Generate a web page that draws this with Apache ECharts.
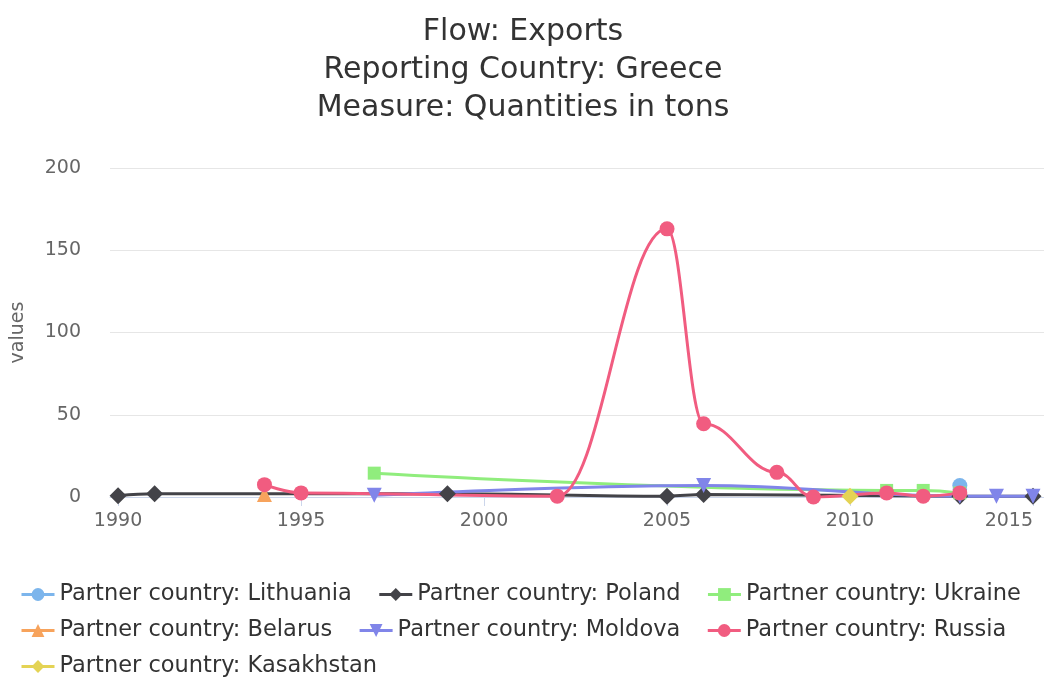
<!DOCTYPE html>
<html>
<head>
<meta charset="utf-8">
<title>Exports Greece</title>
<script src="https://cdn.jsdelivr.net/npm/echarts@6/dist/echarts.min.js"></script>
<style>
  html, body { margin: 0; padding: 0; background: #fff; }
  #main { width: 1044px; height: 677px; }
</style>
</head>
<body>
<!-- 图表容器 -->
<div id="main"></div>
<script>
  // 数据 (年份 / 数值)
  var lithuaniaYears = [2013];
  var lithuaniaValues = [7];
  var polandYears = [1990, 1991, 1999, 2005, 2006, 2013, 2015];
  var polandValues = [0.8, 2, 2, 0.5, 1.5, 0.5, 0.5];
  var ukraineYears = [1997, 2011, 2012, 2013];
  var ukraineValues = [14.5, 4, 4, 2.5];
  var belarusYears = [1994];
  var belarusValues = [1.5];
  var moldovaYears = [1997, 2006, 2013, 2014, 2015];
  var moldovaValues = [1, 7, 0.5, 0.5, 0.5];
  var russiaYears = [1994, 1995, 2002, 2005, 2006, 2008, 2009, 2011, 2012, 2013];
  var russiaValues = [7.5, 2.5, 0.5, 163, 44.5, 15, 0, 2.5, 0.5, 2.5];
  var kasakhstanYears = [2010];
  var kasakhstanValues = [0.5];

  var xTicks = [1990, 1995, 2000, 2005, 2010, 2015];

  function pairs(years, values) {
    var out = [];
    for (var i = 0; i < years.length; i++) {
      out.push([years[i], values[i]]);
    }
    return out;
  }

  function makeSeries(name, color, symbol, years, values, rotate) {
    var size = 15;
    if (symbol == 'rect') size = 13;
    if (symbol == 'diamond') size = 17;
    return {
      name: name,
      type: 'line',
      smooth: 0.4,
      smoothMonotone: 'x',
      symbol: symbol,
      symbolSize: size,
      symbolRotate: rotate || 0,
      showAllSymbol: true,
      lineStyle: { color: color, width: 3 },
      itemStyle: { color: color },
      emphasis: { disabled: true },
      data: pairs(years, values)
    };
  }

  var myChart = echarts.init(document.getElementById('main'));
  var legendText = { fontFamily: 'DejaVu Sans', fontSize: 22.5, color: '#333' };
  var legendBase = { left: 20, padding: 0, itemWidth: 33, itemHeight: 16, itemGap: 26, textStyle: legendText,
    lineStyle: { width: 3 } };

  var option = {
    animation: false,
    textStyle: { fontFamily: 'DejaVu Sans' },
    title: {
      text: 'Flow: Exports\nReporting Country: Greece\nMeasure: Quantities in tons',
      left: 518,
      textAlign: 'center',
      top: 8,
      textStyle: {
        fontFamily: 'DejaVu Sans',
        fontSize: 30,
        fontWeight: 'normal',
        color: '#333',
        lineHeight: 38
      }
    },
    // 三行图例
    legend: [
      echarts.util.extend({ top: 583,
        data: ['Partner country: Lithuania', 'Partner country: Poland', 'Partner country: Ukraine'] }, legendBase),
      echarts.util.extend({ top: 619,
        data: ['Partner country: Belarus', 'Partner country: Moldova', 'Partner country: Russia'] }, legendBase),
      echarts.util.extend({ top: 655,
        data: ['Partner country: Kasakhstan'] }, legendBase)
    ],
    grid: {
      left: 110,
      right: 0,
      top: 168,
      bottom: 180,
      outerBoundsMode: 'none'
    },
    xAxis: {
      type: 'value',
      min: 1989.78,
      max: 2015.3,
      axisLine: { show: true, lineStyle: { color: '#ccd6eb', width: 1 } },
      axisTick: { show: true, length: 9, customValues: xTicks, lineStyle: { color: '#ccd6eb' } },
      axisLabel: {
        customValues: xTicks,
        formatter: function (v) { return String(v); },
        alignMaxLabel: 'right',
        margin: 15,
        fontSize: 19,
        color: '#666',
        fontFamily: 'DejaVu Sans'
      },
      splitLine: { show: false }
    },
    yAxis: {
      type: 'value',
      min: 0,
      max: 200,
      interval: 50,
      name: 'values',
      nameLocation: 'middle',
      nameGap: 82,
      nameTextStyle: { fontSize: 19, color: '#666', fontFamily: 'DejaVu Sans' },
      axisLine: { show: false },
      axisTick: { show: false },
      axisLabel: { margin: 29, fontSize: 19, color: '#666', fontFamily: 'DejaVu Sans' },
      splitLine: { lineStyle: { color: '#e6e6e6', width: 1 } }
    },
    series: [
      makeSeries('Partner country: Lithuania', '#7cb5ec', 'circle', lithuaniaYears, lithuaniaValues),
      makeSeries('Partner country: Poland', '#434348', 'diamond', polandYears, polandValues),
      makeSeries('Partner country: Ukraine', '#90ed7d', 'rect', ukraineYears, ukraineValues),
      makeSeries('Partner country: Belarus', '#f7a35c', 'triangle', belarusYears, belarusValues),
      makeSeries('Partner country: Moldova', '#8085e9', 'triangle', moldovaYears, moldovaValues, 180),
      makeSeries('Partner country: Russia', '#f15c80', 'circle', russiaYears, russiaValues),
      makeSeries('Partner country: Kasakhstan', '#e4d354', 'diamond', kasakhstanYears, kasakhstanValues)
    ]
  };

  myChart.setOption(option, true);
</script>
</body>
</html>
